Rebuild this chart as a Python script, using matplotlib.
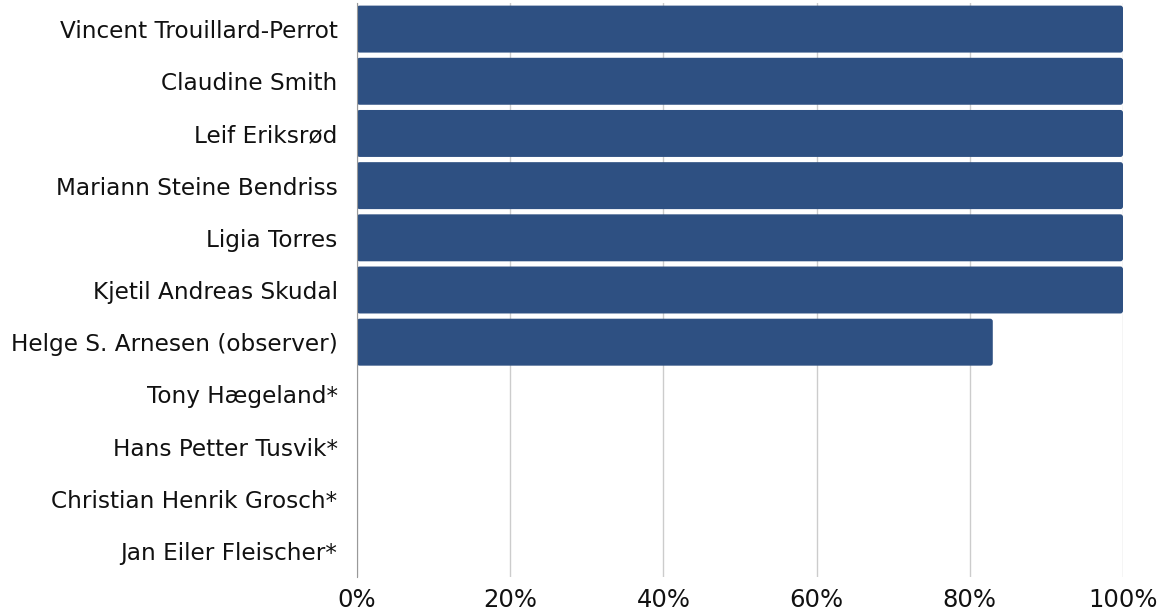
import matplotlib.pyplot as plt
from matplotlib.patches import FancyBboxPatch
from matplotlib.ticker import PercentFormatter

names = [
    "Vincent Trouillard-Perrot",
    "Claudine Smith",
    "Leif Eriksrød",
    "Mariann Steine Bendriss",
    "Ligia Torres",
    "Kjetil Andreas Skudal",
    "Helge S. Arnesen (observer)",
    "Tony Hægeland*",
    "Hans Petter Tusvik*",
    "Christian Henrik Grosch*",
    "Jan Eiler Fleischer*",
]
attendance = [100, 100, 100, 100, 100, 100, 83, 0, 0, 0, 0]

plt.rcParams['font.family'] = ['DejaVu Sans']

fig = plt.figure(figsize=(11.6, 6.11), dpi=100)
ax = fig.add_axes([357 / 1160, 34 / 611, 766 / 1160, 574 / 611])

bars = ax.barh(range(len(names)), attendance, height=0.9, color='#2e5082', zorder=3)

ax.set_ylim(len(names) - 0.5, -0.5)
ax.set_xlim(0, 100)

# swap the square bars for ones with slightly rounded corners
aspect = (11 / 574) / (100 / 766)
for b in bars:
    w = b.get_width()
    if w <= 0:
        continue
    ax.add_patch(FancyBboxPatch((b.get_x(), b.get_y()), w, b.get_height(),
                                boxstyle="round,pad=0,rounding_size=0.35",
                                mutation_aspect=aspect, facecolor='#2e5082',
                                edgecolor='none', zorder=3))
    b.set_visible(False)

ax.set_yticks(range(len(names)))
ax.set_yticklabels(names, fontsize=16.7, color='#111111')
ax.set_xticks([0, 20, 40, 60, 80, 100])
ax.xaxis.set_major_formatter(PercentFormatter(decimals=0))
ax.tick_params(axis='x', labelsize=17.5, colors='#111111', length=0, pad=8)
ax.tick_params(axis='y', length=0, pad=14)

ax.grid(axis='x', color='#cccccc', linewidth=1, zorder=0)
for side in ['top', 'right', 'bottom']:
    ax.spines[side].set_visible(False)
ax.spines['left'].set_color('#999999')
ax.spines['left'].set_zorder(4)

fig.savefig('out.png', dpi=100)
